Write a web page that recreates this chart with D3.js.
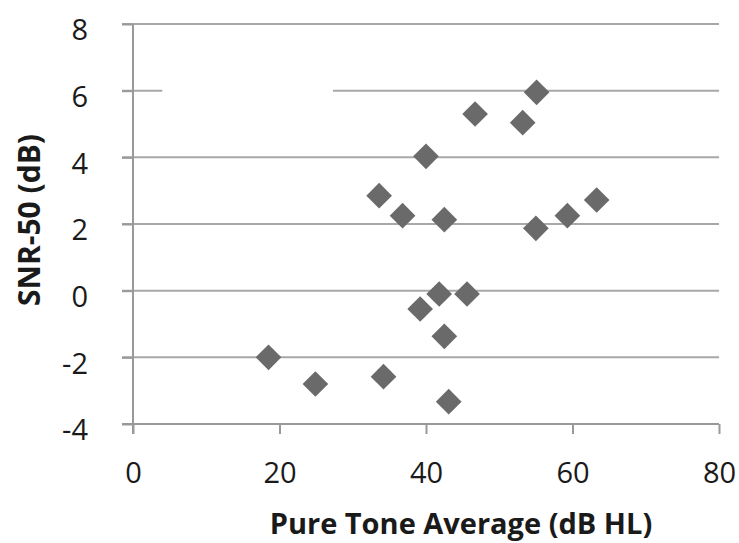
<!DOCTYPE html>
<html>
<head>
<meta charset="utf-8">
<script src="https://cdn.jsdelivr.net/npm/d3@7.9.0/dist/d3.min.js"></script>
<style>
  body { margin: 0; background: #fff; }
  text { font-family: "Open Sans", sans-serif; fill: #1a1a1a; }
</style>
</head>
<body>
<svg id="chart" width="739" height="543"></svg>
<script>
// pure tone average (dB HL) vs SNR-50 (dB)
const pta = [18.5, 24.9, 34.2, 33.6, 36.8, 40.0, 42.5, 39.2, 41.8, 42.5, 45.6, 43.1, 46.7, 53.2, 55.1, 55.0, 59.3, 63.3];
const snr = [-2.0, -2.8, -2.58, 2.85, 2.25, 4.03, 2.13, -0.55, -0.1, -1.37, -0.1, -3.33, 5.3, 5.04, 5.95, 1.87, 2.25, 2.72];
const xTicks = [0, 20, 40, 60, 80];
const yTicks = [-4, -2, 0, 2, 4, 6, 8];
// the 6 dB gridline is interrupted in the original between these x values
const gapLevel = 6;
const gapRange = [4, 27.3];

const svg = d3.select('#chart');

const x = d3.scaleLinear().domain([0, 80]).range([133, 719]);
const y = d3.scaleLinear().domain([-4, 8]).range([424, 24]);

const defs = svg.append('defs');
defs.append('filter').attr('id', 'soft')
  .append('feGaussianBlur').attr('stdDeviation', 0.7);

// horizontal gridlines (tick stubs included)
const grid = svg.append('g').attr('stroke', '#a8a8a8').attr('stroke-width', 2);
yTicks.filter(d => d !== -4).forEach(t => {
  if (t === gapLevel) {
    grid.append('line').attr('x1', x(0) - 11).attr('x2', x(gapRange[0]))
      .attr('y1', y(t)).attr('y2', y(t));
    grid.append('line').attr('x1', x(gapRange[1])).attr('x2', x(80))
      .attr('y1', y(t)).attr('y2', y(t));
  } else {
    grid.append('line').attr('x1', x(0) - 11).attr('x2', x(80))
      .attr('y1', y(t)).attr('y2', y(t));
  }
});

// axes
const fmt = d => String(d); // plain hyphen for negatives, as in the original
const yAxis = svg.append('g')
  .attr('transform', `translate(${x(0)},0)`)
  .call(d3.axisLeft(y).tickValues(yTicks).tickFormat(fmt).tickSize(11).tickSizeOuter(0).tickPadding(34));
const xAxis = svg.append('g')
  .attr('transform', `translate(0,${y(-4)})`)
  .call(d3.axisBottom(x).tickValues(xTicks).tickFormat(fmt).tickSize(10).tickSizeOuter(0).tickPadding(28));

[yAxis, xAxis].forEach(ax => {
  ax.select('.domain').attr('stroke', '#999').attr('stroke-width', 2);
  ax.selectAll('.tick line').attr('stroke', '#999').attr('stroke-width', 2);
  ax.selectAll('.tick text').style('font-family', '"Open Sans", sans-serif')
    .style('font-size', '29px').attr('fill', '#111');
});
yAxis.selectAll('.tick text').attr('dy', '0.55em');
yAxis.select('.domain').attr('d', `M0,${y(8)}V${y(-4) + 10}`);
xAxis.select('.domain').attr('d', `M${x(0) - 11},0H${x(80)}`);

// markers
const diamond = d3.symbol().type(d3.symbolSquare).size(330);
svg.append('g').attr('filter', 'url(#soft)')
  .selectAll('path')
  .data(pta.map((d, i) => [d, snr[i]]))
  .join('path')
  .attr('d', diamond)
  .attr('transform', d => `translate(${x(d[0])},${y(d[1])}) rotate(45)`)
  .attr('fill', '#6b6b6b');

// titles
svg.append('text')
  .attr('x', 461).attr('y', 534)
  .attr('text-anchor', 'middle')
  .style('font-size', '29px').style('font-weight', 'bold')
  .text('Pure Tone Average (dB HL)');

svg.append('text')
  .attr('transform', 'translate(40,220) rotate(-90)')
  .attr('text-anchor', 'middle')
  .style('font-size', '30px').style('font-weight', 'bold')
  .text('SNR-50 (dB)');
</script>
</body>
</html>
